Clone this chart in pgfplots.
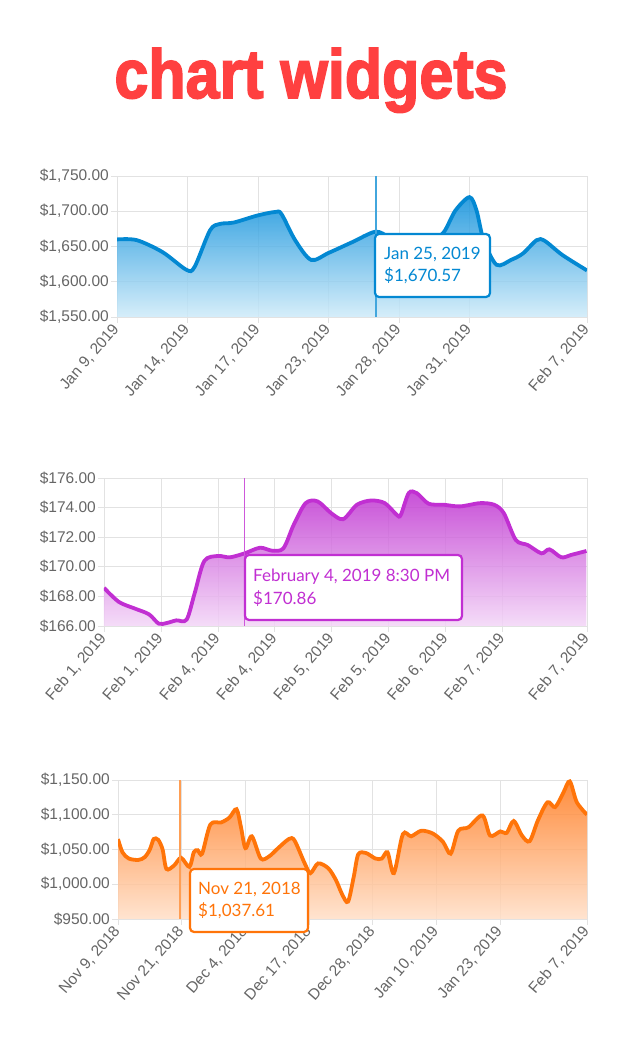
\documentclass[border=0pt]{standalone}
\usepackage{pgfplots}
\pgfplotsset{compat=1.18}
\usepackage{fontspec}
\setmainfont{Liberation Sans}
\newfontfamily\lato{Lato}
\newfontfamily\titlefont[BoldFeatures={FakeBold=2.5}]{Liberation Sans}
\definecolor{titlered}{HTML}{FF4040}
\definecolor{gridc}{HTML}{E2E2E2}
\definecolor{tickc}{HTML}{666666}
\definecolor{blueline}{HTML}{0388D2}
\definecolor{bluetop}{RGB}{12,143,219}
\definecolor{bluebot}{RGB}{207,235,249}
\definecolor{purpline}{HTML}{C12FD2}
\definecolor{purptop}{RGB}{190,49,208}
\definecolor{purpbot}{RGB}{243,214,247}
\definecolor{orline}{HTML}{FF7409}
\definecolor{ortop}{RGB}{255,120,26}
\definecolor{orbot}{RGB}{255,223,200}
\pgfplotsset{chartw/.style={scale only axis, anchor=south west,
  axis line style={draw=gridc, line width=0.8pt},
  grid=major, major grid style={draw=gridc, line width=0.8pt},
  tick align=outside, major tick length=6pt,
  tick style={draw=gridc, line width=0.8pt},
  tick pos=left,
  ticklabel style={font=\fontsize{15.5}{18}\selectfont, text=tickc},
  xticklabel style={rotate=49, anchor=east, inner sep=1pt},
  xticklabel shift=3pt,
  yticklabel style={inner sep=2pt},
  clip=true}}
\pgfplotstableread{
x y
0 1660
0.84 1659
1.94 1642
2.95 1617
3.3 1621
3.96 1673
4.38 1682
4.97 1684
5.98 1694
6.74 1699
7.0 1696
7.58 1659
8.26 1631
9.01 1641
10.0 1656
11.0 1671
11.6 1663
12.5 1652
13.3 1656
13.9 1670
14.4 1701
15.0 1720
15.3 1701
15.6 1659
16.15 1624
16.77 1631
17.27 1640
17.86 1659
18.2 1658
18.95 1638
20 1616
}\tableA
\pgfplotstableread{
x y
0 168.58
0.26 167.63
0.54 167.18
0.79 166.79
0.96 166.16
1.1 166.2
1.27 166.38
1.45 166.43
1.59 168.19
1.76 170.39
2.0 170.73
2.21 170.64
2.47 170.91
2.74 171.29
2.95 171.09
3.15 171.25
3.33 172.83
3.54 174.3
3.75 174.42
3.99 173.62
4.2 173.22
4.44 174.19
4.69 174.48
4.93 174.3
5.14 173.51
5.21 173.5
5.35 174.98
5.49 174.98
5.7 174.26
5.97 174.19
6.25 174.08
6.6 174.3
6.85 174.19
7.02 173.62
7.23 171.81
7.44 171.47
7.68 170.91
7.82 171.18
8.03 170.64
8.2 170.8
8.47 171.07
}\tableB
\pgfplotstableread{
x y
0 1065
0.07 1046
0.17 1037
0.32 1035
0.42 1039
0.5 1050
0.56 1065
0.63 1064
0.7 1050
0.76 1022
0.88 1027
0.99 1038
1.12 1025
1.19 1046
1.25 1049
1.32 1044
1.45 1086
1.62 1089
1.75 1096
1.86 1108
1.93 1082
2.0 1052
2.1 1069
2.24 1037
2.37 1040
2.49 1050
2.68 1065
2.77 1063
2.93 1030
3.02 1016
3.14 1030
3.3 1023
3.42 1006
3.52 985
3.61 975
3.7 1011
3.77 1043
3.89 1045
4.04 1037
4.14 1037
4.23 1046
4.33 1016
4.47 1072
4.6 1069
4.76 1077
4.94 1073
5.1 1061
5.22 1044
5.34 1077
5.5 1082
5.72 1099
5.84 1070
6.0 1076
6.1 1074
6.21 1091
6.34 1070
6.46 1062
6.59 1092
6.74 1118
6.86 1111
6.99 1132
7.09 1148
7.2 1118
7.36 1100
}\tableC
\begin{document}
\begin{tikzpicture}[x=1pt,y=1pt]
\useasboundingbox (0pt,0pt) rectangle (621pt,1059pt);
\node[anchor=base, text=titlered, inner sep=0] at (311pt,961pt) {\resizebox{393pt}{50pt}{\titlefont\bfseries chart widgets}};

% ---------- Chart 1 ----------
\begin{axis}[chartw, at={(117pt,742pt)}, width=470pt, height=141pt,
  xmin=0, xmax=20, ymin=1550, ymax=1750,
  xtick={0,3,6,9,12,15,20},
  xticklabels={{Jan 9, 2019},{Jan 14, 2019},{Jan 17, 2019},{Jan 23, 2019},{Jan 28, 2019},{Jan 31, 2019},{Feb 7, 2019}},
  ytick={1550,1600,1650,1700,1750},
  yticklabels={{\$1,550.00},{\$1,600.00},{\$1,650.00},{\$1,700.00},{\$1,750.00}}]
\addplot[draw=none, top color=bluetop, bottom color=bluebot, fill opacity=0.85, smooth, tension=0.5] table[x=x,y=y] {\tableA} -- (axis cs:20,1550) -- (axis cs:0,1550) -- cycle;
\addplot[draw=blueline, line width=3.8pt, smooth, tension=0.5] table[x=x,y=y] {\tableA};
\draw[blueline!75, line width=1.2pt] (axis cs:11.02,1550) -- (axis cs:11.02,1750);
\end{axis}

% ---------- Chart 2 ----------
\begin{axis}[chartw, at={(104pt,433pt)}, width=483pt, height=148pt,
  xmin=0, xmax=8.48, ymin=166, ymax=176,
  xtick={0,1,2,3,4,5,6,7,8.48},
  xticklabels={{Feb 1, 2019},{Feb 1, 2019},{Feb 4, 2019},{Feb 4, 2019},{Feb 5, 2019},{Feb 5, 2019},{Feb 6, 2019},{Feb 7, 2019},{Feb 7, 2019}},
  ytick={166,168,170,172,174,176},
  yticklabels={{\$166.00},{\$168.00},{\$170.00},{\$172.00},{\$174.00},{\$176.00}}]
\addplot[draw=none, top color=purptop, bottom color=purpbot, fill opacity=0.85, smooth, tension=0.5] table[x=x,y=y] {\tableB} -- (axis cs:8.47,166) -- (axis cs:0,166) -- cycle;
\addplot[draw=purpline, line width=3.8pt, smooth, tension=0.5] table[x=x,y=y] {\tableB};
\draw[purpline!80, line width=1.2pt] (axis cs:2.47,166) -- (axis cs:2.47,176);
\end{axis}

% ---------- Chart 3 ----------
\begin{axis}[chartw, at={(118pt,140pt)}, width=469pt, height=139pt,
  xmin=0, xmax=7.36, ymin=950, ymax=1150,
  xtick={0,1,2,3,4,5,6,7.36},
  xticklabels={{Nov 9, 2018},{Nov 21, 2018},{Dec 4, 2018},{Dec 17, 2018},{Dec 28, 2018},{Jan 10, 2019},{Jan 23, 2019},{Feb 7, 2019}},
  ytick={950,1000,1050,1100,1150},
  yticklabels={{\$950.00},{\$1,000.00},{\$1,050.00},{\$1,100.00},{\$1,150.00}}]
\addplot[draw=none, top color=ortop, bottom color=orbot, fill opacity=0.85, smooth, tension=0.5] table[x=x,y=y] {\tableC} -- (axis cs:7.36,950) -- (axis cs:0,950) -- cycle;
\addplot[draw=orline, line width=3.8pt, smooth, tension=0.5] table[x=x,y=y] {\tableC};
\draw[orline!70, line width=1.6pt] (axis cs:0.97,950) -- (axis cs:0.97,1150);
\end{axis}

% ---------- Tooltips ----------
\draw[blueline, line width=2.2pt, rounded corners=4pt, fill=white] (375pt,762pt) rectangle (490pt,825pt);
\node[anchor=base west, inner sep=0, text=blueline, font=\lato\fontsize{17}{20}\selectfont] at (384pt,799pt) {Jan 25, 2019};
\node[anchor=base west, inner sep=0, text=blueline, font=\lato\fontsize{17}{20}\selectfont] at (384pt,777pt) {\$1,670.57};

\draw[purpline, line width=2.2pt, rounded corners=4pt, fill=white] (245pt,439pt) rectangle (462pt,504pt);
\node[anchor=base west, inner sep=0, text=purpline, font=\lato\fontsize{17}{20}\selectfont] at (253pt,477pt) {February 4, 2019 8:30 PM};
\node[anchor=base west, inner sep=0, text=purpline, font=\lato\fontsize{17}{20}\selectfont] at (253pt,454pt) {\$170.86};

\draw[orline, line width=2.2pt, rounded corners=4pt, fill=white] (190pt,127pt) rectangle (308pt,190pt);
\node[anchor=base west, inner sep=0, text=orline, font=\lato\fontsize{17}{20}\selectfont] at (198pt,164pt) {Nov 21, 2018};
\node[anchor=base west, inner sep=0, text=orline, font=\lato\fontsize{17}{20}\selectfont] at (198pt,142pt) {\$1,037.61};
\end{tikzpicture}
\end{document}
